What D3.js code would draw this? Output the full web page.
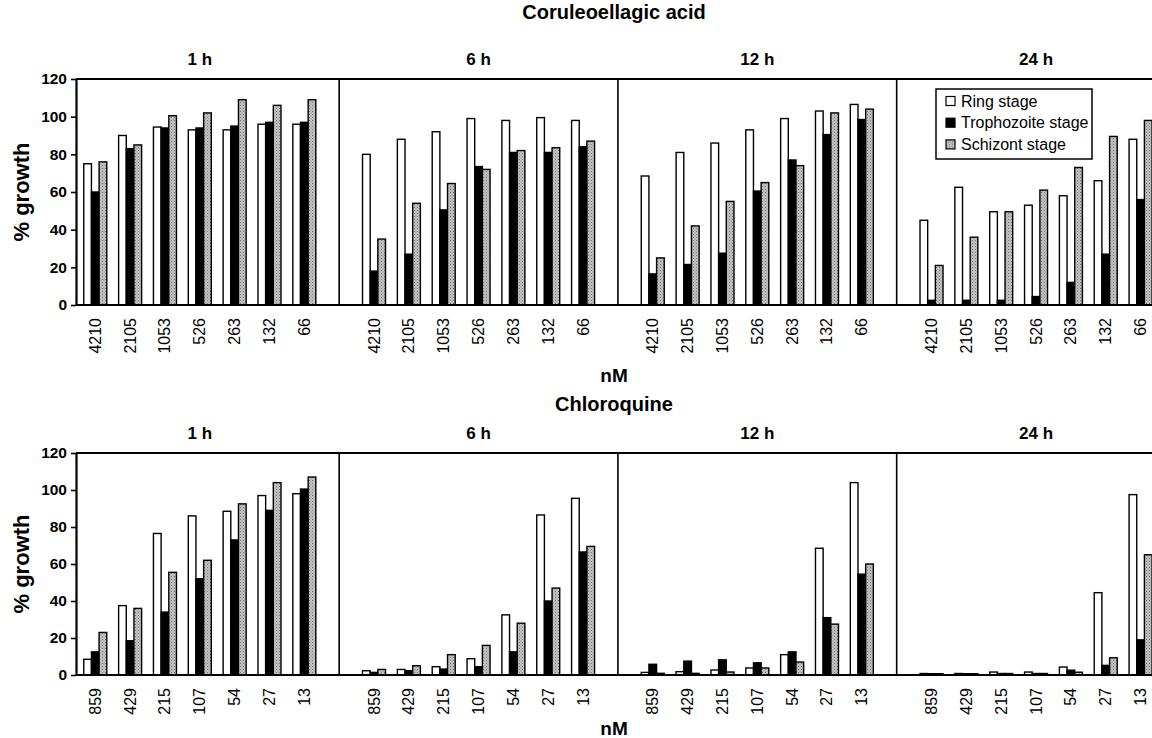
<!DOCTYPE html>
<meta charset="utf-8">
<script src="https://d3js.org/d3.v7.min.js"></script>
<style>
  body { margin: 0; background: #fff; }
  text { font-family: "Liberation Sans", Arial, sans-serif; fill: #000; }
</style>
<div id="chart"></div>
<script>

// data
const timepoints = ["1 h", "6 h", "12 h", "24 h"];
const stages = ["Ring stage", "Trophozoite stage", "Schizont stage"];

const caDoses = ["4210", "2105", "1053", "526", "263", "132", "66"];
const caRing  = [[75, 90, 94.5, 93, 93, 96, 96], [80, 88, 92, 99, 98, 99.5, 98], [68.5, 81, 86, 93, 99, 103, 106.5], [45, 62.5, 49.5, 53, 58, 66, 88]];
const caTroph = [[60, 83, 94, 94, 95, 97, 97], [18, 27, 50.5, 73.5, 81, 81, 84], [16.5, 21.5, 27.5, 60.5, 77, 90.5, 98.5], [2.5, 2.5, 2.5, 4.5, 12, 27, 56]];
const caSchiz = [[76, 85, 100.5, 102, 109, 106, 109], [35, 54, 64.5, 72, 82, 83.5, 87], [25, 42, 55, 65, 74, 102, 104], [21, 36, 49.5, 61, 73, 89.5, 98]];

const cqDoses = ["859", "429", "215", "107", "54", "27", "13"];
const cqRing  = [[8.5, 37.5, 76.5, 86, 88.5, 97, 98], [2.3, 3, 4.5, 8.8, 32.5, 86.5, 95.5], [1.4, 1.8, 2.7, 3.8, 11, 68.5, 104], [0.8, 0.8, 1.6, 1.6, 4.3, 44.5, 97.5]];
const cqTroph = [[12.5, 18.5, 34, 52, 73, 89, 100.5], [1.4, 2.3, 3.2, 4.5, 12.5, 40, 66.5], [5.8, 7.5, 8.2, 6.6, 12.5, 31, 54.5], [0.7, 0.7, 0.8, 0.8, 2.6, 5.2, 19]];
const cqSchiz = [[23, 36, 55.5, 62, 92.5, 104, 107], [3, 5, 11, 16, 28, 47, 69.5], [0.9, 0.9, 1.6, 3.8, 7, 27.5, 60], [0.7, 0.7, 0.8, 0.8, 1.5, 9.3, 65]];

const yTicks = [0, 20, 40, 60, 80, 100, 120];

const W = 1152, H = 738;
const axisX = 76;

const svg = d3.select("#chart").append("svg")
  .attr("width", W)
  .attr("height", H);

svg.append("rect").attr("width", W).attr("height", H).attr("fill", "#fff");

// stippled grey used by the schizont bars
const pat = svg.append("defs").append("pattern")
  .attr("id", "stipple")
  .attr("width", 3).attr("height", 3)
  .attr("patternUnits", "userSpaceOnUse");
pat.append("rect").attr("width", 3).attr("height", 3).attr("fill", "#c4c4c4");
pat.append("rect").attr("width", 1).attr("height", 1).attr("fill", "#6e6e6e");
pat.append("rect").attr("x", 1.5).attr("y", 1.5).attr("width", 1).attr("height", 1).attr("fill", "#8a8a8a");

const fills = ["#fff", "#000", "url(#stipple)"];

// one slot per dose plus a blank slot where each panel starts
function slotKeys(doses) {
  const keys = [];
  timepoints.forEach((t, p) => {
    keys.push(p + "|gap");
    doses.forEach(d => keys.push(p + "|" + d));
  });
  return keys;
}

function drawChart(cfg) {
  const g = svg.append("g");

  const x = d3.scaleBand()
    .domain(slotKeys(cfg.doses))
    .range([43, 1158])
    .paddingInner(0.34)
    .paddingOuter(0.17);

  const xs = d3.scaleBand()
    .domain(stages)
    .range([0, x.bandwidth()]);

  const y = d3.scaleLinear()
    .domain([0, 120])
    .range([cfg.y0, cfg.yTop]);

  const center = k => x(k) + x.bandwidth() / 2;

  // bars
  const rows = [];
  timepoints.forEach((t, p) => {
    cfg.doses.forEach((d, i) => {
      cfg.series.forEach((s, si) => {
        rows.push({key: p + "|" + d, stage: stages[si], si: si, v: s[p][i]});
      });
    });
  });

  g.selectAll(".bar")
    .data(rows)
    .join("rect")
      .attr("class", "bar")
      .attr("x", d => x(d.key) + xs(d.stage))
      .attr("y", d => y(d.v))
      .attr("width", xs.bandwidth())
      .attr("height", d => y(0) - y(d.v))
      .attr("fill", d => fills[d.si])
      .attr("stroke", "#000")
      .attr("stroke-width", 1.4);

  // frame: top line, panel separators, baseline
  g.append("line")
    .attr("x1", axisX).attr("x2", W)
    .attr("y1", y(120)).attr("y2", y(120))
    .attr("stroke", "#000").attr("stroke-width", 2.2);
  g.append("line")
    .attr("x1", axisX).attr("x2", W)
    .attr("y1", y(0)).attr("y2", y(0))
    .attr("stroke", "#000").attr("stroke-width", 2.2);
  g.selectAll(".sep")
    .data([1, 2, 3])
    .join("line")
      .attr("class", "sep")
      .attr("x1", p => center(p + "|gap")).attr("x2", p => center(p + "|gap"))
      .attr("y1", y(120)).attr("y2", y(0))
      .attr("stroke", "#000").attr("stroke-width", 1.6);

  // y axis
  const yAxis = g.append("g")
    .attr("transform", `translate(${axisX},0)`)
    .call(d3.axisLeft(y).tickValues(yTicks).tickSize(5).tickPadding(4).tickSizeOuter(0));
  yAxis.select(".domain").attr("stroke-width", 2.2);
  yAxis.selectAll(".tick line").attr("stroke-width", 1.6);
  yAxis.selectAll("text")
    .attr("font-size", 15.5).attr("font-weight", "bold")
    .attr("font-family", "Liberation Sans, Arial, sans-serif");

  // x tick labels (rotated)
  const doseKeys = x.domain().filter(k => !k.endsWith("gap"));
  g.selectAll(".xlab")
    .data(doseKeys)
    .join("text")
      .attr("class", "xlab")
      .attr("transform", k => `translate(${center(k) + 5.5},${y(0) + 13}) rotate(-90)`)
      .attr("text-anchor", "end")
      .attr("font-size", 16)
      .text(k => k.split("|")[1]);

  // panel labels
  g.selectAll(".plab")
    .data(timepoints)
    .join("text")
      .attr("class", "plab")
      .attr("x", (t, p) => center(p + "|" + cfg.doses[3]))
      .attr("y", cfg.panelY)
      .attr("text-anchor", "middle")
      .attr("font-size", 17).attr("font-weight", "bold")
      .text(t => t);

  // title and axis titles
  g.append("text")
    .attr("x", (axisX + W) / 2).attr("y", cfg.titleY)
    .attr("text-anchor", "middle")
    .attr("font-size", 20).attr("font-weight", "bold")
    .text(cfg.title);

  g.append("text")
    .attr("x", (axisX + W) / 2).attr("y", cfg.nmY)
    .attr("text-anchor", "middle")
    .attr("font-size", 19).attr("font-weight", "bold")
    .text("nM");

  g.append("text")
    .attr("transform", `translate(29,${(y(0) + y(120)) / 2}) rotate(-90)`)
    .attr("text-anchor", "middle")
    .attr("font-size", 22).attr("font-weight", "bold")
    .text("% growth");
}

drawChart({
  title: "Coruleoellagic acid", doses: caDoses, series: [caRing, caTroph, caSchiz],
  yTop: 79, y0: 305, titleY: 19, panelY: 65, nmY: 382
});

drawChart({
  title: "Chloroquine", doses: cqDoses, series: [cqRing, cqTroph, cqSchiz],
  yTop: 453, y0: 675, titleY: 411, panelY: 439, nmY: 735
});

// legend inside the top 24 h panel
const leg = svg.append("g").attr("transform", "translate(936,89)");
leg.append("rect")
  .attr("width", 156).attr("height", 70)
  .attr("fill", "#fff").attr("stroke", "#000").attr("stroke-width", 1.5);
stages.forEach((s, i) => {
  const row = leg.append("g").attr("transform", `translate(10,${12 + i * 21.7})`);
  row.append("rect")
    .attr("y", -4.5).attr("width", 9).attr("height", 9)
    .attr("fill", fills[i]).attr("stroke", "#000").attr("stroke-width", 1.2);
  row.append("text")
    .attr("x", 15).attr("y", 5.5)
    .attr("font-size", 16)
    .text(s);
});
</script>
